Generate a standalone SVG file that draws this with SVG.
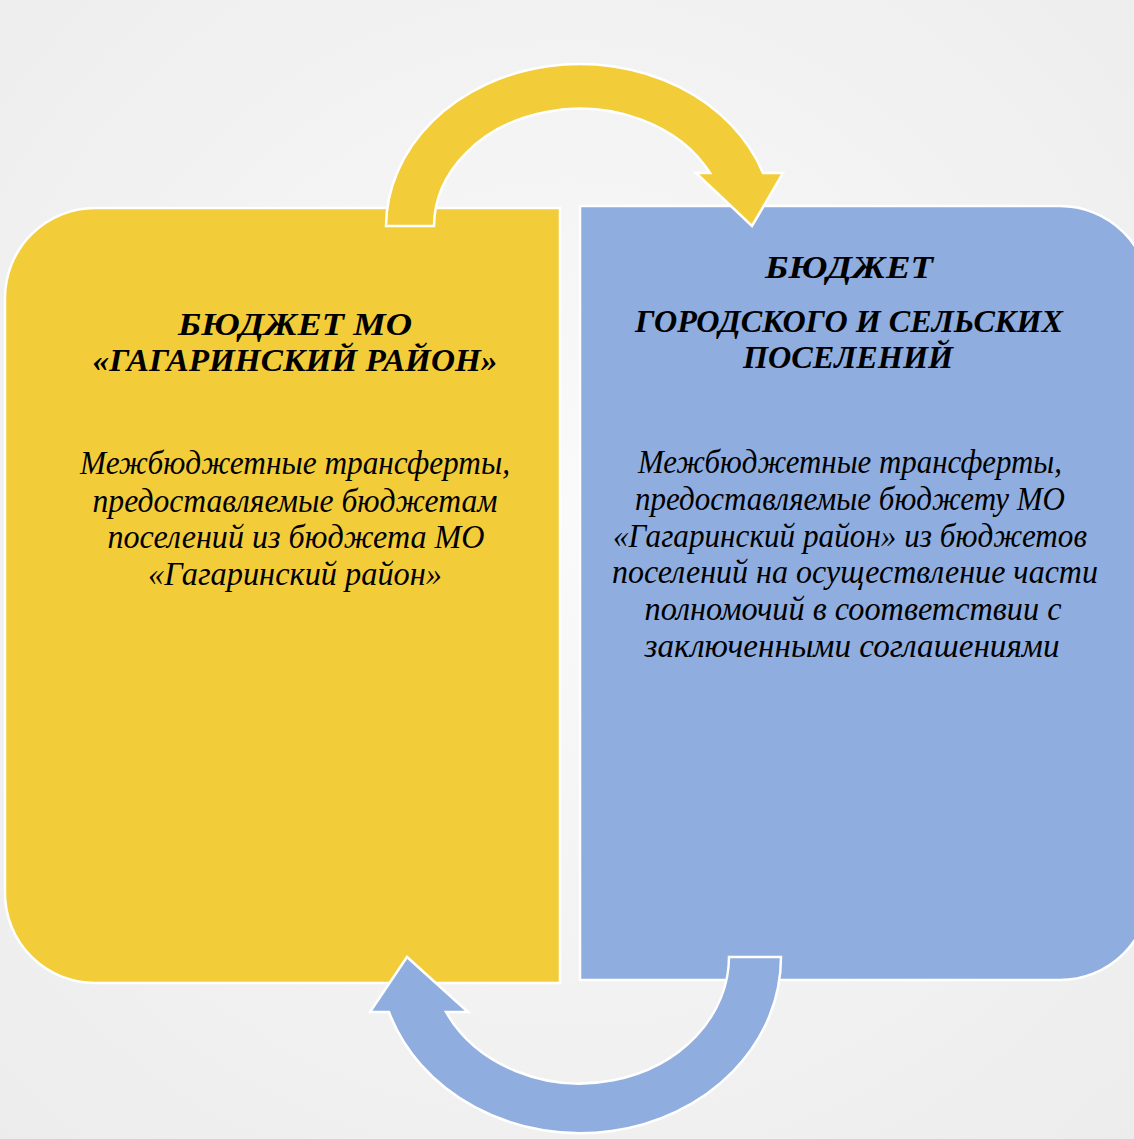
<svg xmlns="http://www.w3.org/2000/svg" width="1134" height="1139" viewBox="0 0 1134 1139">
<defs>
<radialGradient id="bg" cx="50%" cy="45%" r="75%">
<stop offset="0" stop-color="#fafafa"/>
<stop offset="1" stop-color="#ececec"/>
</radialGradient>
<style>
.yel{fill:#f3cc39;stroke:#ffffff;stroke-width:2.5}
.blu{fill:#8fadde;stroke:#ffffff;stroke-width:2.5}
.t{font-family:"Liberation Serif","Times New Roman",serif;font-style:italic;fill:#000;text-anchor:middle}
.h{font-size:32px;font-weight:bold}
.b{font-size:34px}
</style>
</defs>
<rect width="1134" height="1139" fill="url(#bg)"/>
<g id="node-left">
<path class="yel" d="M95,208 H560 V983 H95 A90,90 0 0 1 5,893 V298 A90,90 0 0 1 95,208 Z"/>
<text class="t h" x="295" y="335" textLength="234" lengthAdjust="spacingAndGlyphs">БЮДЖЕТ МО</text>
<text class="t h" x="295" y="371" textLength="405" lengthAdjust="spacingAndGlyphs">«ГАГАРИНСКИЙ РАЙОН»</text>
<text class="t b" x="295" y="474" textLength="430" lengthAdjust="spacingAndGlyphs">Межбюджетные трансферты,</text>
<text class="t b" x="295" y="512" textLength="405" lengthAdjust="spacingAndGlyphs">предоставляемые бюджетам</text>
<text class="t b" x="296" y="548" textLength="377" lengthAdjust="spacingAndGlyphs">поселений из бюджета МО</text>
<text class="t b" x="295" y="585" textLength="294" lengthAdjust="spacingAndGlyphs">«Гагаринский район»</text>
</g>
<g id="node-right">
<path class="blu" d="M580,206 H1060 A90,90 0 0 1 1150,296 V890 A90,90 0 0 1 1060,980 H580 Z"/>
<text class="t h" x="849" y="278" textLength="168" lengthAdjust="spacingAndGlyphs">БЮДЖЕТ</text>
<text class="t h" x="849" y="332" textLength="428" lengthAdjust="spacingAndGlyphs">ГОРОДСКОГО И СЕЛЬСКИХ</text>
<text class="t h" x="848" y="368" textLength="210" lengthAdjust="spacingAndGlyphs">ПОСЕЛЕНИЙ</text>
<text class="t b" x="850" y="473" textLength="424" lengthAdjust="spacingAndGlyphs">Межбюджетные трансферты,</text>
<text class="t b" x="850" y="510" textLength="430" lengthAdjust="spacingAndGlyphs">предоставляемые бюджету МО</text>
<text class="t b" x="850" y="547" textLength="474" lengthAdjust="spacingAndGlyphs">«Гагаринский район» из бюджетов</text>
<text class="t b" x="855" y="583" textLength="486" lengthAdjust="spacingAndGlyphs">поселений на осуществление части</text>
<text class="t b" x="853" y="620" textLength="417" lengthAdjust="spacingAndGlyphs">полномочий в соответствии с</text>
<text class="t b" x="852" y="657" textLength="415" lengthAdjust="spacingAndGlyphs">заключенными соглашениями</text>
</g>
<g id="connectors">
<path id="arrow-top" class="yel" d="M386,226 A194,163 0 0 1 763,173 L783,173 L752,226 L696,173 L710,173 A146,118 0 0 0 434,226 Z"/>
<path id="arrow-bottom" class="blu" d="M781,957 A201,176 0 0 1 389,1012 L370,1012 L407,957 L468,1012 L446,1012 A149,127 0 0 0 729,957 Z"/>
</g>
</svg>
